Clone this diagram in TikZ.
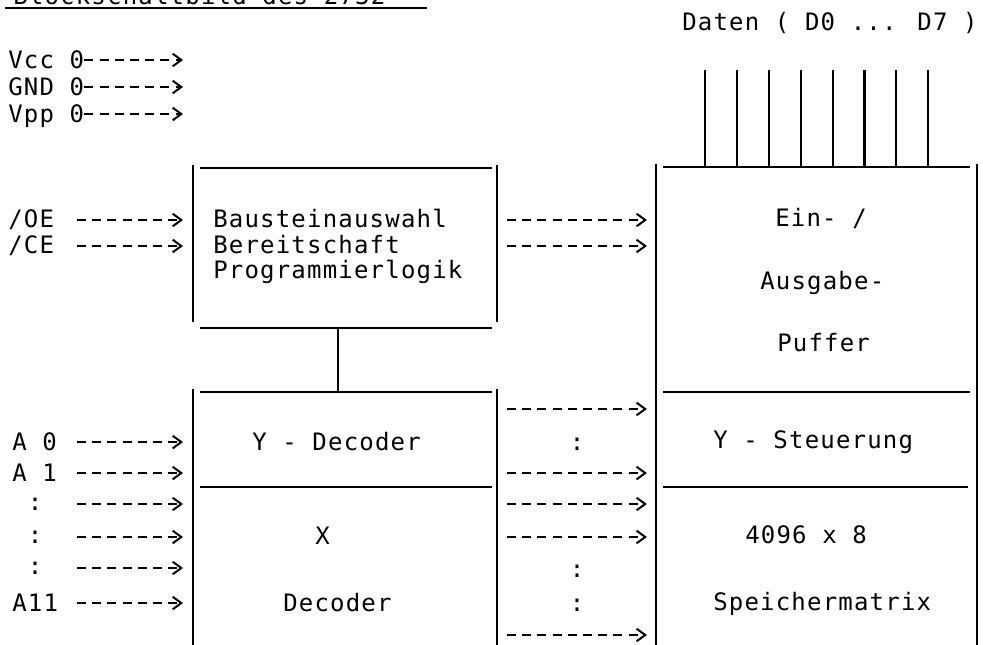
\documentclass[tikz,border=0pt]{standalone}
\usepackage{fontspec}
\newfontfamily\twfam[LetterSpace=5]{DejaVu Sans Mono}
\newcommand\twf{\twfam\fontsize{18pt}{21pt}\selectfont}
\usetikzlibrary{arrows.meta}
\begin{document}
\begin{tikzpicture}[x=0.75pt,y=-0.75pt,
  lbl/.style={anchor=base west,inner sep=0pt,font=\twf},
  ctr/.style={anchor=center,inner sep=0pt,font=\twf},
  frame/.style={line width=1.8pt},
  sig/.style={line width=1.5pt,dash pattern=on 6.8pt off 4.6pt,
    -{Straight Barb[length=6.5pt,width=9.5pt,line width=1.5pt]}},
  dline/.style={line width=1.6pt}]
\fill[white] (0,0) rectangle (983,645);
\useasboundingbox (0,0) rectangle (983,645);

% reference x positions of box edges and arrow starts
\coordinate (cL) at (193,0);
\coordinate (cR) at (497,0);
\coordinate (iL) at (656,0);
\coordinate (iR) at (977,0);
\coordinate (inX) at (77,0);

% title (cut off at the top edge, as in the original)
\node[lbl] (title) at (13,5) {Blockschaltbild des 2732};
\draw[line width=1.8pt] (5,8) -- (427,8);

% power pins
\node[lbl] (vcc) at (8,68.8) {Vcc 0};
\node[lbl] (gnd) at (8,95.8) {GND 0};
\node[lbl] (vpp) at (8,122.8) {Vpp 0};
\coordinate (vccE) at (183,60);
\coordinate (gndE) at (183,87);
\coordinate (vppE) at (183,114);
\draw[sig] (vcc.east |- vccE) -- (vccE);
\draw[sig] (gnd.east |- gndE) -- (gndE);
\draw[sig] (vpp.east |- vppE) -- (vppE);

% data bus
\node[lbl] (daten) at (682,30.8) {Daten ( D0 ... D7 )};
\coordinate (ioTop) at (663,167);
\foreach \i in {0,...,7}{
  \coordinate (d\i) at ({705+31.9*\i},70);
  \draw[dline] (d\i) -- (d\i |- ioTop);
}

% control box
\draw[frame] (200,168) -- (492,168);
\draw[frame] (200,328) -- (492,328);
\draw[frame] (cL |- 0,165) -- (cL |- 0,322);
\draw[frame] (cR |- 0,165) -- (cR |- 0,322);
\node[lbl] (bau) at (213,227.8) {Bausteinauswahl};
\node[lbl] (ber) at (213,253.8) {Bereitschaft};
\node[lbl] (prog) at (213,278.8) {Programmierlogik};
\coordinate (ctrlBot) at (338,328);

% control inputs
\node[lbl] (oe) at (8,227.8) {/OE};
\node[lbl] (ce) at (8,253.8) {/CE};
\draw[sig,shorten >=7.5pt] (oe.east -| inX) -- (oe.east -| cL);
\draw[sig,shorten >=7.5pt] (ce.east -| inX) -- (ce.east -| cL);

% decoder box
\coordinate (decTop) at (338,392);
\draw[frame] (200,392) -- (492,392);
\draw[frame] (200,487) -- (492,487);
\draw[frame] (cL |- 0,389) -- (cL |- 0,645);
\draw[frame] (cR |- 0,389) -- (cR |- 0,645);
\draw[frame] (ctrlBot) -- (decTop);
\node[lbl] (ydec) at (252,450.8) {Y - Decoder};
\node[lbl] (xdec1) at (315,544.8) {X};
\node[lbl] (xdec2) at (283,611.8) {Decoder};

% address inputs
\node[lbl] (a0) at (12,450.8) {A 0};
\node[lbl] (a1) at (12,481.8) {A 1};
\node[ctr] (ac1) at (35,504) {:};
\node[ctr] (ac2) at (35,537) {:};
\node[ctr] (ac3) at (35,568) {:};
\node[lbl] (a11) at (12,611.8) {A11};
\foreach \n in {a0,a1,ac1,ac2,ac3,a11}{
  \draw[sig,shorten >=7.5pt] (\n.east -| inX) -- (\n.east -| cL);
}

% right box
\draw[frame] (ioTop) -- (970,167);
\draw[frame] (663,392) -- (970,392);
\draw[frame] (663,487) -- (968,487);
\draw[frame] (iL |- 0,164) -- (iL |- 0,645);
\draw[frame] (iR |- 0,164) -- (iR |- 0,645);
\node[lbl] (ein) at (775,226.8) {Ein- /};
\node[lbl] (aus) at (760,289.8) {Ausgabe-};
\node[lbl] (puf) at (777,351.8) {Puffer};
\node[lbl] (yst) at (713,448.8) {Y - Steuerung};
\node[lbl] (mat1) at (745,543.8) {4096 x 8};
\node[lbl] (mat2) at (713,610.8) {Speichermatrix};

% internal connections
\draw[sig,shorten <=7.5pt,shorten >=6.8pt] (oe.east -| cR) -- (oe.east -| iL);
\draw[sig,shorten <=7.5pt,shorten >=6.8pt] (ce.east -| cR) -- (ce.east -| iL);
\coordinate (m1) at (497,409);
\coordinate (m7) at (497,635);
\draw[sig,shorten <=7.5pt,shorten >=6.8pt] (m1) -- (m1 -| iL);
\node[ctr] (mc1) at (577,444) {:};
\draw[sig,shorten <=7.5pt,shorten >=6.8pt] (a1.east -| cR) -- (a1.east -| iL);
\draw[sig,shorten <=7.5pt,shorten >=6.8pt] (ac1.east -| cR) -- (ac1.east -| iL);
\draw[sig,shorten <=7.5pt,shorten >=6.8pt] (ac2.east -| cR) -- (ac2.east -| iL);
\node[ctr] (mc2) at (577,571) {:};
\node[ctr] (mc3) at (577,605) {:};
\draw[sig,shorten <=7.5pt,shorten >=6.8pt] (m7) -- (m7 -| iL);
\end{tikzpicture}
\end{document}
